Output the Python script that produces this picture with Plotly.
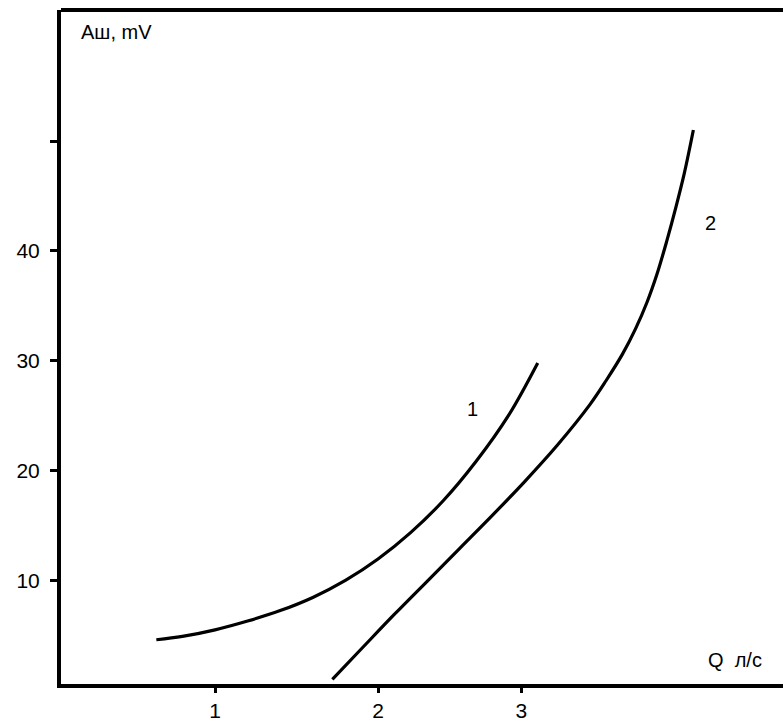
import plotly.graph_objects as go

# Curve 1
q1 = [0.64, 0.80, 1.00, 1.20, 1.40, 1.60, 1.80, 2.00, 2.20, 2.40, 2.60, 2.80, 2.98]
a1 = [4.6, 4.9, 5.5, 6.3, 7.25, 8.45, 10.0, 11.95, 14.35, 17.25, 20.8, 25.0, 29.8]

# Curve 2
q2 = [1.72, 1.90, 2.10, 2.30, 2.50, 2.70, 2.90, 3.10, 3.30, 3.40, 3.50, 3.58, 3.65, 3.71, 3.77, 3.83, 3.88, 3.935]
a2 = [1.0, 3.8, 6.9, 9.9, 12.9, 15.9, 19.0, 22.3, 26.0, 28.2, 30.6, 32.9, 35.3, 37.8, 40.8, 44.1, 47.1, 51.0]

y_tickvals = [10, 20, 30, 40, 50]
y_ticktext = ["10", "20", "30", "40", ""]
x_tickvals = [1, 2, 2.88]
x_ticktext = ["1", "2", "3"]

curve_labels = ["1", "2"]
label_pos = [(2.58, 25.6), (4.04, 42.5)]

FONT = "Arial, Liberation Sans, sans-serif"

fig = go.Figure()
for q, a in [(q1, a1), (q2, a2)]:
    fig.add_trace(go.Scatter(x=q, y=a, mode="lines",
                             line=dict(color="black", width=3.2, shape="spline", smoothing=1.0),
                             showlegend=False, hoverinfo="skip"))

for t, (x, y) in zip(curve_labels, label_pos):
    fig.add_annotation(x=x, y=y, text=t, showarrow=False, font=dict(family=FONT, size=20, color="black"))

fig.add_annotation(xref="paper", yref="paper", x=0.025, y=0.9675, xanchor="left", yanchor="middle",
                   text="Аш, mV", showarrow=False, font=dict(family=FONT, size=20, color="black"))
fig.add_annotation(xref="paper", yref="paper", x=0.894, y=0.0355, xanchor="left", yanchor="middle",
                   text="Q  л/с", showarrow=False, font=dict(family=FONT, size=20, color="black"))

# top frame line
fig.add_shape(type="line", xref="paper", yref="paper", x0=0, x1=1, y0=1, y1=1,
              line=dict(color="black", width=4))

fig.update_xaxes(range=[0.055, 4.485], showgrid=False, zeroline=False, showline=True, linewidth=4,
                 linecolor="black", ticks="outside", ticklen=5, tickwidth=3, tickcolor="black",
                 tickvals=x_tickvals, ticktext=x_ticktext,
                 tickfont=dict(family=FONT, size=21, color="black"))
fig.update_yaxes(range=[0.57, 61.93], showgrid=False, zeroline=False, showline=True, linewidth=4,
                 linecolor="black", ticks="outside", ticklen=7, tickwidth=3, tickcolor="black",
                 tickvals=y_tickvals, ticktext=y_ticktext, ticklabelstandoff=6,
                 tickfont=dict(family=FONT, size=21, color="black"))

fig.update_layout(width=783, height=722, margin=dict(l=61, r=0, t=10, b=35),
                  plot_bgcolor="white", paper_bgcolor="white")

fig.write_html("out.html")
